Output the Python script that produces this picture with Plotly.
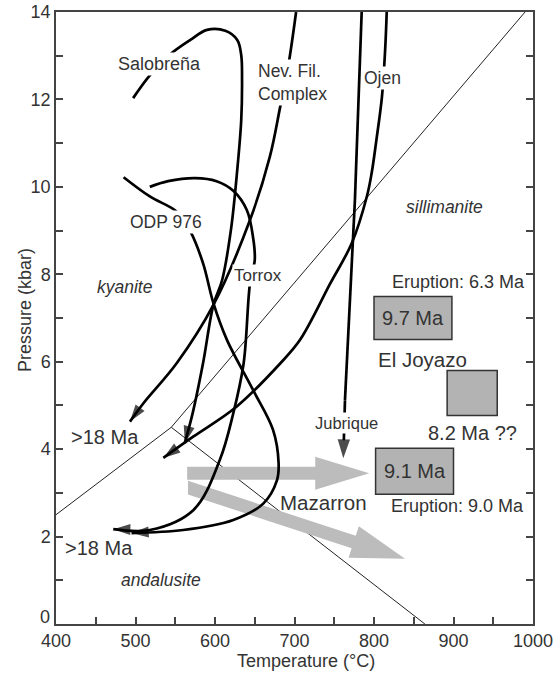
import numpy as np
import plotly.graph_objects as go

# ---------------- data (T in deg C, P in kbar) ----------------
# Al2SiO5 phase diagram boundaries
triple_T, triple_P = 545, 4.5
ky_and_T, ky_and_P = 400, 2.5
ky_sil_T, ky_sil_P = 990, 14.0
and_sil_T, and_sil_P = 864, 0.0

salobrena_T = [497, 518, 543, 569, 590, 613, 628, 633, 634, 633, 628, 620, 609, 598, 585, 572, 562]
salobrena_P = [12.03, 12.55, 13.02, 13.36, 13.59, 13.57, 13.36, 13.01, 12.45, 11.53, 10.39, 9.01, 7.87, 7.30, 5.97, 4.83, 4.14]

nevfil_T = [702, 692, 682, 669, 644, 598, 552, 510, 493]
nevfil_P = [14.0, 12.75, 11.83, 10.69, 9.24, 7.30, 5.97, 5.05, 4.63]

odp_T = [485, 518, 552, 569, 585, 598, 615, 648, 673, 680, 678, 661, 623, 560, 495]
odp_P = [10.22, 9.78, 9.43, 8.98, 8.25, 7.34, 6.50, 5.35, 4.44, 3.68, 3.29, 2.76, 2.38, 2.15, 2.08]

torrox_T = [518, 541, 575, 602, 623, 640, 648, 650, 644, 636, 623, 606, 573, 518, 472]
torrox_P = [10.00, 10.13, 10.20, 10.13, 9.91, 9.47, 8.83, 8.33, 7.79, 5.96, 4.82, 3.75, 2.61, 2.15, 2.17]

ojen_T = [816, 814, 810, 803, 797, 791, 772, 745, 707, 682, 627, 573, 535]
ojen_P = [14.0, 13.13, 12.06, 11.07, 10.31, 9.78, 8.71, 7.79, 6.50, 5.96, 4.97, 4.29, 3.80]

jubrique_T = [784.5, 776, 763.5, 761.4]
jubrique_P = [14.0, 9.7, 5.12, 3.79]

# Mazarron paths (tail T, tail P, tip T, tip P)
maz_flat = (565, 3.45, 794, 3.45)
maz_down = (566, 3.12, 839, 1.49)

# Age boxes (Tmin, Tmax, Pmin, Pmax)
box_97 = (800, 898, 6.51, 7.49)
box_joy = (892, 955, 4.77, 5.80)
box_91 = (802, 900, 2.97, 4.02)
eruption_82_T, eruption_82_P = 919, 5.09

# tick labels
x_ticks = [400, 500, 600, 700, 800, 900, 1000]
y_ticks = [0, 2, 4, 6, 8, 10, 12, 14]

# ---------------- layout constants ----------------
W, H = 554, 674
ML, MR, MT, MB = 56, 21, 12, 50
PW, PH = W - ML - MR, H - MT - MB
XR = (400, 1000)
YR = (0, 14)
SX = PW / (XR[1] - XR[0])
SY = PH / (YR[1] - YR[0])

FONT = "Liberation Sans, Arial, Helvetica, sans-serif"
TXT = "#333333"
AX = "#444444"
GRAY_ARROW = "#bcbcbc"
GRAY_BOX = "#b3b3b3"

fig = go.Figure()

# phase boundaries (thin)
fig.add_trace(go.Scatter(x=[ky_and_T, triple_T, ky_sil_T], y=[ky_and_P, triple_P, ky_sil_P],
                         mode="lines", line=dict(color="#222", width=1), hoverinfo="skip"))
fig.add_trace(go.Scatter(x=[triple_T, and_sil_T], y=[triple_P, and_sil_P],
                         mode="lines", line=dict(color="#222", width=1), hoverinfo="skip"))


def arrow_poly(t0, p0, t1, p1, shaft, head_len, head_w):
    x0, y0, x1, y1 = t0 * SX, p0 * SY, t1 * SX, p1 * SY
    d = np.hypot(x1 - x0, y1 - y0)
    ux, uy = (x1 - x0) / d, (y1 - y0) / d
    nx, ny = -uy, ux
    bx, by = x1 - ux * head_len, y1 - uy * head_len
    tv = shaft / 2 / ux  # vertical cut at tail
    pts = [(x0, y0 + tv),
           (bx + nx * shaft / 2, by + ny * shaft / 2),
           (bx + nx * head_w / 2, by + ny * head_w / 2),
           (x1, y1),
           (bx - nx * head_w / 2, by - ny * head_w / 2),
           (bx - nx * shaft / 2, by - ny * shaft / 2),
           (x0, y0 - tv)]
    return [p[0] / SX for p in pts], [p[1] / SY for p in pts]


for a in (maz_flat, maz_down):
    xs, ys = arrow_poly(*a, shaft=13, head_len=54, head_w=33)
    fig.add_trace(go.Scatter(x=xs, y=ys, mode="lines", fill="toself", fillcolor=GRAY_ARROW,
                             line=dict(width=0, color=GRAY_ARROW), hoverinfo="skip"))

# age boxes
for (t0, t1, p0, p1) in (box_97, box_joy, box_91):
    fig.add_shape(type="rect", x0=t0, x1=t1, y0=p0, y1=p1, xref="x", yref="y",
                  fillcolor=GRAY_BOX, line=dict(color="#333", width=1.5), layer="above")


def path(T, P, shape="spline", head=18):
    n = len(T)
    fig.add_trace(go.Scatter(
        x=T, y=P, mode="lines+markers",
        line=dict(color="black", width=2.7, shape=shape, smoothing=1.0),
        marker=dict(symbol="arrow", size=[0] * (n - 1) + [head], angleref="previous",
                    color="black", line=dict(width=0)),
        hoverinfo="skip"))


path(salobrena_T, salobrena_P)
path(nevfil_T, nevfil_P)
path(odp_T, odp_P)
path(torrox_T, torrox_P)
path(ojen_T, ojen_P)
path(jubrique_T, jubrique_P, shape="linear", head=20)

# small upward arrow in El Joyazo box
fig.add_trace(go.Scatter(x=[eruption_82_T], y=[eruption_82_P], mode="markers",
                         marker=dict(symbol="arrow", size=15, angle=0, color="black", line=dict(width=0)),
                         hoverinfo="skip"))


def label(text, T, P, size=17.5, bg=None, italic=False, align="center", xanchor="center"):
    if italic:
        text = "<i>" + text + "</i>"
    fig.add_annotation(x=T, y=P, xref="x", yref="y", text=text, showarrow=False,
                       font=dict(family=FONT, size=size, color=TXT), align=align,
                       xanchor=xanchor, yanchor="middle",
                       bgcolor=bg if bg else "rgba(0,0,0,0)", borderpad=1)


W_BG = "white"
label("Salobreña", 529.6, 12.80, 18, W_BG)
label("Nev. Fil.<br>Complex", 651.0, 12.39, 17.5, W_BG, align="left", xanchor="left")
label("Ojen", 811.3, 12.49, 17.5, W_BG)
label("ODP 976", 538.4, 9.19, 17.5, W_BG)
label("Torrox", 654.1, 7.97, 17, W_BG)
label("Jubrique", 765.7, 4.60, 16.5, W_BG)
label("kyanite", 486.8, 7.71, 17.5, italic=True)
label("sillimanite", 889.3, 9.53, 17.5, italic=True)
label("andalusite", 532.1, 1.01, 17.5, italic=True)
label("&gt;18 Ma", 461.6, 4.27, 20)
label("&gt;18 Ma", 454.1, 1.74, 20)
label("Mazarron", 737.1, 2.79, 20.5)
label("Eruption: 6.3 Ma", 906.0, 7.83, 18)
label("9.7 Ma", 849.0, 7.0, 20)
label("El Joyazo", 861.0, 6.06, 20.5)
label("8.2 Ma ??", 923.9, 4.38, 20)
label("9.1 Ma", 851.0, 3.5, 20)
label("Eruption: 9.0 Ma", 905.0, 2.71, 18)

# the "0" pressure label sits slightly above its tick in the original
fig.add_annotation(text=str(y_ticks[0]), xref="paper", yref="y", x=0, y=y_ticks[0] + 0.16,
                   xanchor="right", yanchor="middle", xshift=-4, showarrow=False,
                   font=dict(family=FONT, size=18, color=TXT))

# axis titles
fig.add_annotation(text="Temperature (°C)", xref="paper", yref="paper",
                   x=(306 - ML) / PW, y=-(661 - (H - MB)) / PH, showarrow=False,
                   font=dict(family=FONT, size=18, color=TXT), xanchor="center", yanchor="middle")
fig.add_annotation(text="Pressure (kbar)", xref="paper", yref="paper",
                   x=(25 - ML) / PW, y=((H - MB) - 310) / PH, showarrow=False, textangle=-90,
                   font=dict(family=FONT, size=18, color=TXT), xanchor="center", yanchor="middle")

axis_common = dict(showgrid=False, zeroline=False, showline=True, linecolor=AX, linewidth=1.5,
                   ticks="inside", ticklen=7, tickwidth=1.5, tickcolor=AX, automargin=False,
                   tickfont=dict(family=FONT, size=18, color=TXT))
fig.update_xaxes(range=list(XR), tickmode="array", tickvals=x_ticks,
                 ticktext=[str(v) for v in x_ticks], mirror=True,
                 minor=dict(dtick=50, tick0=400, ticks="inside", ticklen=7, tickwidth=1.5, tickcolor=AX),
                 **axis_common)
fig.update_yaxes(range=list(YR), tickmode="array", tickvals=y_ticks,
                 ticktext=[""] + [str(v) for v in y_ticks[1:]], mirror="ticks",
                 minor=dict(dtick=1, tick0=0, ticks="inside", ticklen=7, tickwidth=1.5, tickcolor=AX),
                 **axis_common)

fig.update_layout(width=W, height=H, autosize=False, showlegend=False,
                  margin=dict(l=ML, r=MR, t=MT, b=MB, autoexpand=False),
                  plot_bgcolor="white", paper_bgcolor="white",
                  font=dict(family=FONT, color=TXT))

fig.write_html("out.html", config={"displayModeBar": False, "responsive": False},
               post_script="document.body.style.margin='0';"
                           "document.body.style.padding='0';"
                           "document.documentElement.style.overflow='hidden';")
